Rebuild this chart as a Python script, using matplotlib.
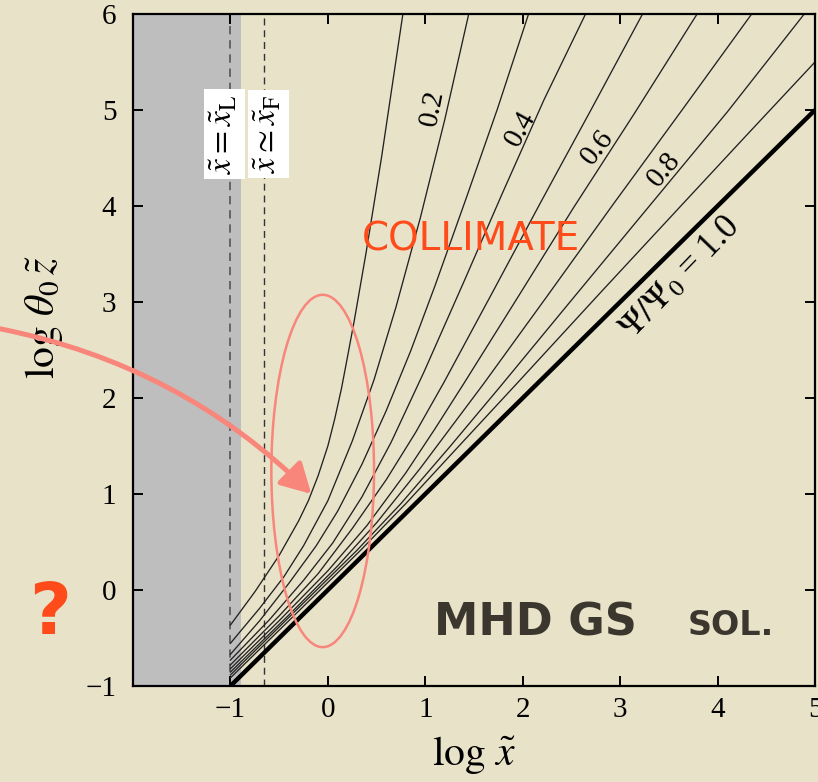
import matplotlib
matplotlib.use('Agg')
import matplotlib.pyplot as plt
from matplotlib.patches import Ellipse, FancyArrowPatch

plt.rcParams['font.family'] = ['Liberation Serif', 'DejaVu Serif']
plt.rcParams['mathtext.fontset'] = 'stix'

# field lines Psi/Psi0 = 0.1 ... 0.9 in the (log x, log theta0 z) plane
psi01_x = [-1.0, -0.75, -0.5, -0.3, -0.2, -0.1, 0.0, 0.07, 0.14, 0.2, 0.27, 0.39, 0.55, 0.77]
psi01_y = [-0.365, -0.02, 0.36, 0.72, 0.93, 1.19, 1.5, 1.78, 2.1, 2.42, 2.8, 3.5, 4.5, 6.0]
psi02_x = [-1.0, -0.7, -0.45, -0.25, 0.0, 0.25, 0.474, 0.7, 0.95, 1.2, 1.446]
psi02_y = [-0.555, -0.19, 0.14, 0.46, 0.93, 1.55, 2.19, 2.95, 3.88, 4.9, 6.0]
psi03_x = [-1.0, -0.7, -0.4, -0.12, 0.1, 0.35, 0.6, 0.85, 1.1, 1.416, 1.74, 2.06]
psi03_y = [-0.67, -0.32, 0.07, 0.46, 0.82, 1.31, 1.87, 2.49, 3.17, 4.07, 5.01, 6.0]
psi04_x = [-1.0, -0.6, -0.25, 0.05, 0.35, 0.65, 0.986, 1.4, 1.79, 2.22, 2.645]
psi04_y = [-0.73, -0.31, 0.1, 0.49, 0.97, 1.54, 2.27, 3.22, 4.13, 5.11, 6.0]
psi05_x = [-1.0, -0.5, -0.1, 0.25, 0.6, 0.9, 1.19, 1.7, 2.18, 2.7, 3.23]
psi05_y = [-0.78, -0.27, 0.17, 0.64, 1.15, 1.64, 2.16, 3.12, 4.03, 5.0, 6.0]
psi06_x = [-1.0, -0.5, 0.0, 0.4, 0.8, 1.1, 1.395, 1.95, 2.52, 3.15, 3.79]
psi06_y = [-0.82, -0.32, 0.2, 0.67, 1.22, 1.68, 2.15, 3.05, 3.98, 4.97, 6.0]
psi07_x = [-1.0, -0.4, 0.1, 0.5, 0.95, 1.6, 2.25, 2.93, 3.65, 4.35]
psi07_y = [-0.855, -0.26, 0.25, 0.7, 1.27, 2.15, 3.06, 4.02, 5.02, 6.0]
psi08_x = [-1.0, -0.35, 0.3, 0.75, 1.25, 1.77, 2.55, 3.3, 4.1, 4.89]
psi08_y = [-0.885, -0.235, 0.415, 0.9, 1.49, 2.12, 3.08, 4.0, 4.98, 6.0]
psi09_x = [-1.0, -0.3, 0.335, 0.8, 1.3, 1.93, 2.8, 3.65, 4.3, 5.0]
psi09_y = [-0.915, -0.22, 0.413, 0.9, 1.45, 2.14, 3.1, 4.03, 4.74, 5.5]

# outermost line Psi/Psi0 = 1.0
psi10_x = [-1.0, 5.0]
psi10_y = [-1.0, 5.0]

x_light = -1.0     # log x_L
x_fast = -0.66     # log x_F
x_shade = -0.89    # edge of the shaded inner region

level_labels = ['0.2', '0.4', '0.6', '0.8']
x_ticks = [-1, 0, 1, 2, 3, 4, 5]
y_ticks = [-1, 0, 1, 2, 3, 4, 5, 6]

bg = '#e8e2c9'
salmon = '#f8867b'
red = '#ff4a1a'

fig = plt.figure(figsize=(8.18, 7.82), dpi=100, facecolor=bg)
ax = fig.add_axes([133 / 818, 96 / 782, 682 / 818, 672 / 782])
ax.set_facecolor(bg)
ax.set_xlim(-2, 5)
ax.set_ylim(-1, 6)

ax.axvspan(-2, x_shade, color='#bebebe', lw=0, zorder=0)
ax.axvline(x_light, color='#555555', lw=1.2, ls=(0, (5, 3.5)), zorder=1)
ax.axvline(x_fast, color='#333333', lw=1.0, ls=(0, (5, 3.5)), zorder=1)

thin = [(psi01_x, psi01_y), (psi02_x, psi02_y), (psi03_x, psi03_y),
        (psi04_x, psi04_y), (psi05_x, psi05_y), (psi06_x, psi06_y),
        (psi07_x, psi07_y), (psi08_x, psi08_y), (psi09_x, psi09_y)]
for xs, ys in thin:
    ax.plot(xs, ys, color='#222222', lw=0.95, zorder=2)
ax.plot(psi10_x, psi10_y, color='black', lw=3.2, zorder=3, solid_capstyle='butt')

# labels along the field lines
label_pos = [(1.07, 5.02, 79), (1.98, 4.81, 61), (2.77, 4.61, 52), (3.45, 4.38, 50)]
for text, (lx, ly, rot) in zip(level_labels, label_pos):
    ax.text(lx, ly, text, fontsize=21, rotation=rot, ha='center', va='center',
            rotation_mode='anchor', zorder=4)
ax.text(3.62, 3.25, r'$\Psi/\Psi_0$ = 1.0', fontsize=25, rotation=46,
        ha='center', va='center', rotation_mode='anchor', zorder=4)

box = dict(boxstyle='square,pad=0.15', fc='white', ec='none')
ax.text(-1.065, 4.75, r'$\tilde{x}=\tilde{x}_{\mathrm{L}}$', fontsize=24, rotation=90,
        ha='center', va='center', bbox=box, zorder=5)
ax.text(-0.612, 4.75, r'$\tilde{x}\simeq\tilde{x}_{\mathrm{F}}$', fontsize=24, rotation=90,
        ha='center', va='center', bbox=box, zorder=5)

ax.text(1.467, 3.54, 'COLLIMATE', color=red, fontsize=28, family='DejaVu Sans',
        ha='center', va='baseline', zorder=4)
ax.text(2.13, -0.469, 'MHD GS', color='#3b372f', fontsize=32, family='DejaVu Sans',
        fontweight='bold', ha='center', va='baseline', zorder=4)
ax.text(4.14, -0.469, 'SOL.', color='#3b372f', fontsize=24, family='DejaVu Sans',
        fontweight='bold', ha='center', va='baseline', zorder=4)

ax.add_patch(Ellipse((-0.053, 1.24), 1.054, 3.67, fill=False, ec=salmon, lw=1.8, zorder=6))
arrow = FancyArrowPatch((-3.36, 2.72), (-0.17, 1.0), connectionstyle='arc3,rad=-0.15',
                        arrowstyle='-|>,head_length=18,head_width=10', mutation_scale=1,
                        color=salmon, lw=3.6, shrinkA=0, shrinkB=0, clip_on=False, zorder=7)
ax.add_patch(arrow)

fig.text(50 / 818, 1 - 634 / 782, '?', color=red, fontsize=52, family='DejaVu Sans',
         fontweight='bold', ha='center', va='baseline')

ax.set_xticks(x_ticks)
ax.set_yticks(y_ticks)
ax.tick_params(direction='in', length=7.5, width=1.4, labelsize=21, top=True, right=True)
ax.tick_params(axis='x', pad=8)
ax.tick_params(axis='y', pad=12)
for s in ax.spines.values():
    s.set_linewidth(1.6)

ax.set_xlabel(r'$\log\,\tilde{x}$', fontsize=30, labelpad=8)
ax.set_ylabel(r'$\log\,\theta_0\,\tilde{z}$', fontsize=30)
ax.yaxis.set_label_coords(-0.1, 0.548)

fig.savefig('out.png', dpi=100, facecolor=bg)
